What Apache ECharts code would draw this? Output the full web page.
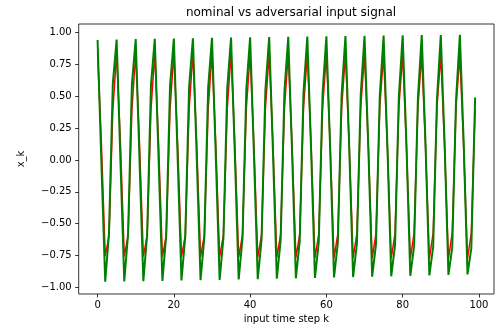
<!DOCTYPE html>
<html>
<head>
<meta charset="utf-8">
<script src="https://cdn.jsdelivr.net/npm/echarts@6/dist/echarts.min.js"></script>
<style>html,body{margin:0;padding:0;background:#fff}#c{width:498px;height:334px}</style>
</head>
<body>
<div id="c"></div>
<script>
const titleText = 'nominal vs adversarial input signal';
const xLabel = 'input time step k';
const yLabel = 'x_k';
const xTicks = [0, 20, 40, 60, 80, 100];
const yTicks = [-1.00, -0.75, -0.50, -0.25, 0.00, 0.25, 0.50, 0.75, 1.00];

const nominal = [
 0.843, 0.130, -0.756, -0.598, 0.390,
 0.842, 0.128, -0.758, -0.597, 0.391,
 0.841, 0.126, -0.759, -0.595, 0.393,
 0.840, 0.124, -0.760, -0.594, 0.395,
 0.839, 0.122, -0.761, -0.592, 0.396,
 0.838, 0.120, -0.762, -0.591, 0.398,
 0.837, 0.118, -0.764, -0.590, 0.399,
 0.836, 0.116, -0.765, -0.588, 0.401,
 0.835, 0.114, -0.766, -0.587, 0.403,
 0.834, 0.112, -0.767, -0.585, 0.404,
 0.833, 0.110, -0.768, -0.584, 0.406,
 0.832, 0.108, -0.770, -0.582, 0.407,
 0.831, 0.106, -0.771, -0.581, 0.409,
 0.830, 0.104, -0.772, -0.579, 0.410,
 0.829, 0.102, -0.773, -0.578, 0.412,
 0.828, 0.100, -0.774, -0.576, 0.413,
 0.827, 0.098, -0.775, -0.575, 0.415,
 0.826, 0.096, -0.776, -0.573, 0.416,
 0.825, 0.094, -0.777, -0.572, 0.418,
 0.824, 0.092, -0.778, -0.570, 0.400
];

const adversarial = [
 0.943, -0.023, -0.957, -0.572, 0.602,
 0.946, -0.014, -0.955, -0.579, 0.595,
 0.949, -0.006, -0.952, -0.586, 0.588,
 0.951, 0.002, -0.950, -0.593, 0.582,
 0.954, 0.011, -0.947, -0.599, 0.575,
 0.956, 0.019, -0.944, -0.606, 0.568,
 0.959, 0.028, -0.942, -0.613, 0.561,
 0.961, 0.036, -0.939, -0.619, 0.554,
 0.963, 0.044, -0.936, -0.626, 0.547,
 0.966, 0.053, -0.933, -0.632, 0.540,
 0.968, 0.061, -0.930, -0.639, 0.533,
 0.970, 0.069, -0.927, -0.645, 0.526,
 0.972, 0.078, -0.923, -0.652, 0.519,
 0.974, 0.086, -0.920, -0.658, 0.511,
 0.976, 0.094, -0.917, -0.664, 0.504,
 0.977, 0.103, -0.914, -0.671, 0.497,
 0.979, 0.111, -0.910, -0.677, 0.490,
 0.981, 0.119, -0.907, -0.683, 0.482,
 0.982, 0.128, -0.903, -0.689, 0.475,
 0.984, 0.136, -0.899, -0.695, 0.490
];

const toPairs = arr => arr.map((v, i) => [i, v]);
const font = 'DejaVu Sans';
const chart = echarts.init(document.getElementById('c'), null, {renderer: 'canvas'});
chart.setOption({
  animation: false,
  backgroundColor: '#fff',
  title: {
    text: titleText, left: 286, top: 2, textAlign: 'center',
    textStyle: {fontFamily: font, fontSize: 12, fontWeight: 'normal', color: '#000'}
  },
  grid: {left: 78.7, right: 4, top: 24, bottom: 40, show: true, borderColor: '#000', borderWidth: 0.8, backgroundColor: 'transparent'},
  xAxis: {
    type: 'value', min: -4.95, max: 103.95,
    name: xLabel, nameLocation: 'middle', nameGap: 18,
    nameTextStyle: {fontFamily: font, fontSize: 10, color: '#000'},
    axisLine: {show: false, onZero: false},
    splitLine: {show: false},
    axisTick: {show: true, inside: false, length: 3.5, lineStyle: {color: '#000', width: 0.8}, customValues: xTicks},
    axisLabel: {fontFamily: font, fontSize: 10, color: '#000', margin: 6, customValues: xTicks, formatter: v => String(v)}
  },
  yAxis: {
    type: 'value', min: -1.053, max: 1.068,
    name: yLabel, nameLocation: 'middle', nameGap: 52, nameRotate: 90,
    nameTextStyle: {fontFamily: font, fontSize: 10, color: '#000'},
    axisLine: {show: false, onZero: false},
    splitLine: {show: false},
    axisTick: {show: true, inside: false, length: 3.5, lineStyle: {color: '#000', width: 0.8}, customValues: yTicks},
    axisLabel: {fontFamily: font, fontSize: 10, color: '#000', margin: 7, customValues: yTicks,
      formatter: v => (v < 0 ? '\u2212' + Math.abs(v).toFixed(2) : v.toFixed(2))}
  },
  series: [
    {type: 'line', name: 'nominal', data: toPairs(nominal), showSymbol: false, symbol: 'none',
     lineStyle: {color: '#ff0000', width: 1.5}, itemStyle: {color: '#ff0000'}},
    {type: 'line', name: 'adversarial', data: toPairs(adversarial), showSymbol: false, symbol: 'none',
     lineStyle: {color: '#008000', width: 2}, itemStyle: {color: '#008000'}}
  ]
});
</script>
</body>
</html>
